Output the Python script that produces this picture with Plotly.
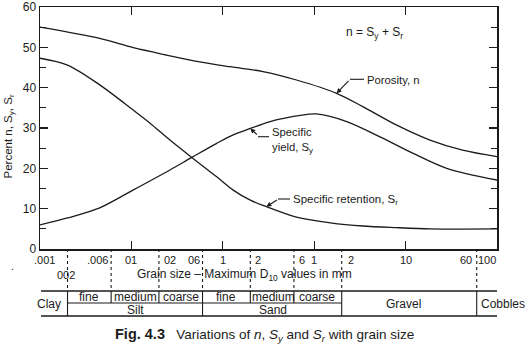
import math
import plotly.graph_objects as go

# ---------------- data ----------------
grain_n = [0.001, 0.0045, 0.0105, 0.024, 0.056, 0.12, 0.275, 0.64, 1.76, 3.4, 8.0, 18.5, 42, 100]
porosity = [55.0, 52.2, 49.9, 48.1, 46.4, 45.2, 44.0, 41.9, 38.6, 35.3, 30.7, 27.0, 24.5, 22.9]

grain_sy = [0.001, 0.002, 0.0045, 0.0104, 0.0264, 0.0457, 0.0858, 0.13, 0.2, 0.33, 0.42,
            1.05, 2.27, 5.25, 12.1, 28.2, 100]
specific_yield = [6.0, 7.7, 10.2, 14.6, 19.6, 22.7, 26.2, 28.3, 29.9, 31.6, 32.2,
                  33.5, 31.6, 27.8, 23.7, 20.0, 17.1]

grain_sr = [0.001, 0.002, 0.0045, 0.0104, 0.016, 0.0264, 0.0457, 0.0858, 0.13, 0.2, 0.3,
            0.64, 1.5, 3.4, 8.0, 18.5, 42, 100]
specific_retention = [47.3, 45.6, 40.7, 34.5, 31.2, 27.0, 22.7, 17.9, 14.6, 12.1, 10.5,
                      7.9, 6.5, 5.7, 5.3, 5.0, 4.95, 5.0]

# axis tick label row (text as printed), with where each sits
tick_values = [0.001, 0.006, 0.01, 0.02, 0.06, 0.1, 0.2, 0.6, 1, 2, 10, 60, 100]
tick_texts = [".001", ".006", "01", "02", "06", "1", "2", "6", "1", "2", "10", "60", "100"]
tick_anchor = ["left", "right", "center", "left", "right", "center", "left", "left",
               "center", "left", "center", "right", "right"]
tick_shift = [-8, -1, 0, 3, -1, 0, 3, 3, 0, 4, 0, -3, 1]

dashed_bounds = [0.002, 0.006, 0.02, 0.06, 0.2, 0.6, 2, 60]
full_height_bounds = [0.002, 0.06, 2, 60]   # lines through both table rows

# classification table labels: (text, grain-size position)
table_top = [("fine", 0.00344), ("medium", 0.0112), ("coarse", 0.0353),
             ("fine", 0.108), ("medium", 0.363), ("coarse", 1.086)]
table_bottom = [("Silt", 0.011), ("Sand", 0.35)]
table_span = [("Clay", 0.00127), ("Gravel", 9.6), ("Cobbles", 116.0)]

FONT = "Liberation Sans, Arial, Helvetica, sans-serif"
INK = "#1b1b1b"

# ---------------- geometry helpers (plot area: x 40..497, y 7..249 px) ----------------
L, R, T, B = 40, 31, 7, 107
W, H = 528, 356
PW, PH = W - L - R, H - T - B


def py(p):  # pixel row -> paper y
    return (H - B - p) / PH


def pxp(p):  # pixel col -> paper x
    return (p - L) / PW


def gx(v):  # grain size -> paper x (log axis -3..2)
    return (math.log10(v) + 3) / 5


fig = go.Figure()
for xs, ys in [(grain_n, porosity), (grain_sy, specific_yield), (grain_sr, specific_retention)]:
    fig.add_trace(go.Scatter(x=xs, y=ys, mode="lines",
                             line=dict(color=INK, width=1.3, shape="spline", smoothing=0.9),
                             showlegend=False, hoverinfo="skip"))

shapes = []
for v in dashed_bounds:
    shapes.append(dict(type="line", xref="paper", yref="paper", x0=gx(v), x1=gx(v),
                       y0=0, y1=py(291), line=dict(color=INK, width=1.1, dash="3px,3px")))
shapes.append(dict(type="line", xref="paper", yref="paper", x0=pxp(41), x1=1, y0=py(291), y1=py(291),
                   line=dict(color=INK, width=1.3)))
shapes.append(dict(type="line", xref="paper", yref="paper", x0=pxp(41), x1=1, y0=py(316), y1=py(316),
                   line=dict(color=INK, width=1.3)))
shapes.append(dict(type="line", xref="paper", yref="paper", x0=gx(0.002), x1=gx(2), y0=py(303), y1=py(303),
                   line=dict(color=INK, width=1.1)))
for v in dashed_bounds:
    bottom = 316 if v in full_height_bounds else 303
    shapes.append(dict(type="line", xref="paper", yref="paper", x0=gx(v), x1=gx(v),
                       y0=py(291), y1=py(bottom), line=dict(color=INK, width=1.1)))

for x0, x1, yy in [(350, 364, 79.3), (258, 269, 136.7), (278, 290, 199)]:
    shapes.append(dict(type="line", xref="paper", yref="paper", x0=pxp(x0), x1=pxp(x1),
                       y0=py(yy), y1=py(yy), line=dict(color=INK, width=1.1)))

ann = []
for v, t, a, s in zip(tick_values, tick_texts, tick_anchor, tick_shift):
    ann.append(dict(xref="paper", yref="paper", x=gx(v), y=py(260), text=t, showarrow=False,
                    xanchor=a, yanchor="middle", xshift=s, font=dict(size=11, family=FONT, color=INK)))
ann.append(dict(xref="paper", yref="paper", x=gx(0.002), y=py(274.5), text="002", showarrow=False,
                xanchor="center", yanchor="middle", xshift=-2, font=dict(size=11, family=FONT, color=INK)))
ann.append(dict(xref="paper", yref="paper", x=pxp(244.5), y=py(274.5),
                text="Grain size – Maximum D<sub>10</sub> values in mm", showarrow=False,
                xanchor="center", yanchor="middle", font=dict(size=12, family=FONT, color=INK)))
ann.append(dict(xref="paper", yref="paper", x=pxp(12), y=py(266), text=".", showarrow=False,
                xanchor="center", yanchor="middle", font=dict(size=11, family=FONT, color=INK)))

for t, v in table_top:
    ann.append(dict(xref="paper", yref="paper", x=gx(v), y=py(297.3), text=t, showarrow=False,
                    xanchor="center", yanchor="middle", borderpad=0,
                    font=dict(size=12, family=FONT, color=INK)))
for t, v in table_bottom:
    ann.append(dict(xref="paper", yref="paper", x=gx(v), y=py(309.8), text=t, showarrow=False,
                    xanchor="center", yanchor="middle", borderpad=0,
                    font=dict(size=12, family=FONT, color=INK)))
for t, v in table_span:
    ann.append(dict(xref="paper", yref="paper", x=gx(v), y=py(303.5), text=t, showarrow=False,
                    xanchor="center", yanchor="middle", borderpad=0,
                    font=dict(size=12, family=FONT, color=INK)))

ann.append(dict(xref="paper", yref="paper", x=pxp(8), y=py(136.5), text="Percent n, S<sub>y</sub>, S<sub>r</sub>",
                showarrow=False, textangle=-90, xanchor="center", yanchor="middle",
                font=dict(size=11.5, family=FONT, color=INK)))

ann.append(dict(xref="paper", yref="paper", x=pxp(344), y=py(33), text="n = S<sub>y</sub> + S<sub>r</sub>",
                showarrow=False, xanchor="left", yanchor="middle", font=dict(size=12, family=FONT, color=INK)))
ann.append(dict(xref="paper", yref="paper", x=pxp(365), y=py(80), text="Porosity, n",
                showarrow=False, xanchor="left", yanchor="middle", font=dict(size=11.3, family=FONT, color=INK)))
ann.append(dict(xref="paper", yref="paper", x=pxp(270), y=py(141), text="Specific<br>yield, S<sub>y</sub>",
                showarrow=False, xanchor="left", yanchor="middle", align="left",
                font=dict(size=11.3, family=FONT, color=INK)))
ann.append(dict(xref="paper", yref="paper", x=pxp(291), y=py(199.5), text="Specific retention, S<sub>r</sub>",
                showarrow=False, xanchor="left", yanchor="middle", font=dict(size=11.5, family=FONT, color=INK)))

for tipx, tipy, dx, dy in [(1.76, 38.6, 13.3, -14), (0.2, 29.9, 8, 7.5), (0.3, 10.5, 12, -7.7)]:
    ann.append(dict(xref="x", yref="y", x=math.log10(tipx), y=tipy, text="", showarrow=True,
                    ax=dx, ay=dy, arrowhead=2, arrowsize=0.9, arrowwidth=1.1, arrowcolor=INK,
                    standoff=0, startstandoff=0))

ann.append(dict(xref="paper", yref="paper", x=pxp(113), y=py(335),
                text="<b><span style='font-size:14.5px'>Fig. 4.3</span></b>&nbsp;&nbsp;&nbsp;"
                     "Variations of <i>n</i>, <i>S<sub>y</sub></i> and <i>S<sub>r</sub></i> with grain size",
                showarrow=False, xanchor="left", yanchor="middle", font=dict(size=13.5, family=FONT, color=INK)))

fig.update_layout(
    width=W, height=H,
    margin=dict(l=L, r=R, t=T, b=B, pad=0, autoexpand=False),
    paper_bgcolor="white", plot_bgcolor="white",
    shapes=shapes, annotations=ann,
    font=dict(family=FONT, color=INK),
    xaxis=dict(type="log", range=[-3, 2], showgrid=False, zeroline=False, automargin=False,
               showline=True, linecolor=INK, linewidth=1.5, mirror="ticks",
               ticks="inside", ticklen=8, tickwidth=1.2, tickcolor=INK,
               tickvals=[0.01, 0.1, 1, 10], showticklabels=False),
    yaxis=dict(range=[0, 60], showgrid=False, zeroline=False, automargin=False,
               showline=True, linecolor=INK, linewidth=1.5, mirror="ticks",
               ticks="inside", ticklen=8, tickwidth=1.2, tickcolor=INK,
               tickvals=[0, 10, 20, 30, 40, 50, 60], tickfont=dict(size=12, family=FONT, color=INK),
               minor=dict(tickvals=[5, 15, 25, 35, 45, 55], ticks="inside", ticklen=6,
                          tickwidth=1.1, tickcolor=INK)),
)

fig.write_html("out.html",
               config={"displayModeBar": False, "staticPlot": True},
               post_script="document.body.style.margin='0';document.body.style.padding='0';"
                           "document.documentElement.style.overflow='hidden';")
